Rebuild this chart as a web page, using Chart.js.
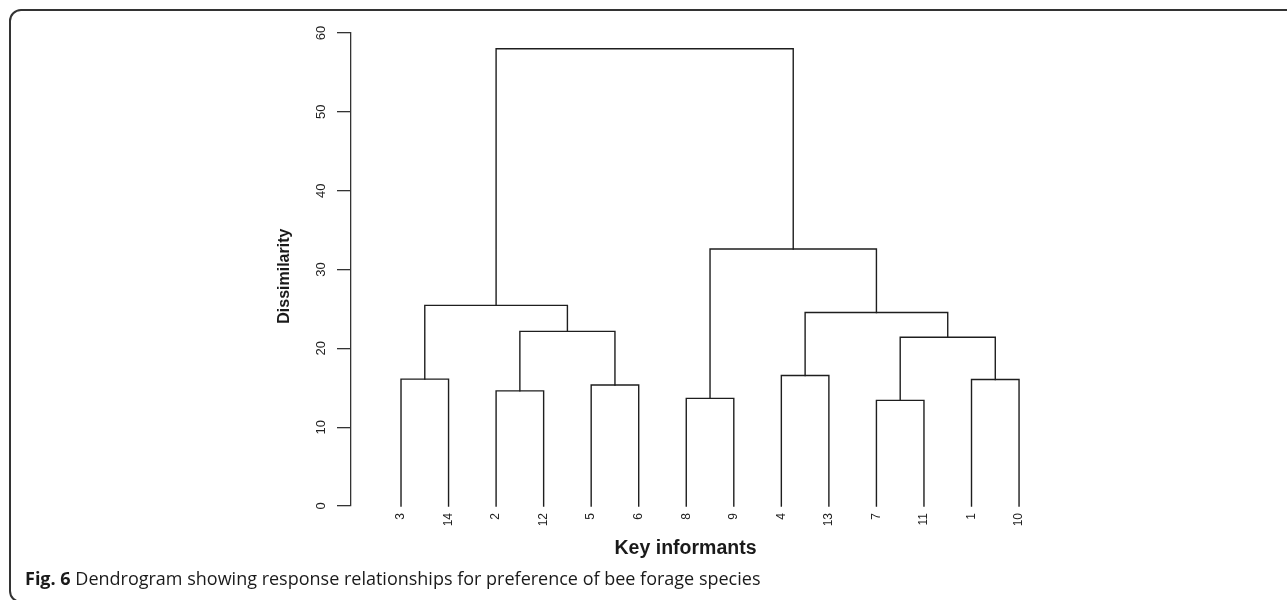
<!DOCTYPE html>
<html>
<head>
<meta charset="utf-8">
<script src="https://cdn.jsdelivr.net/npm/chart.js@4"></script>
<style>
  html, body { margin: 0; padding: 0; background: #fff; overflow: hidden; width: 1287px; height: 600px; }
  #frame { position: absolute; left: 9px; top: 9px; width: 1400px; height: 590px; border: 2px solid #333; border-radius: 12px; }
  #wrap { position: absolute; left: 0; top: 0; width: 1287px; height: 600px; }
  #cap { position: absolute; left: 25px; top: 568px; font-family: "Open Sans", "Noto Sans", sans-serif; font-size: 18px; line-height: 20px; color: #1a1a1a; white-space: nowrap; }
  #cap b { font-weight: 700; }
</style>
</head>
<body>
<div id="frame"></div>
<div id="wrap"><canvas id="c" width="1287" height="600"></canvas></div>
<div id="cap"><b>Fig. 6</b> Dendrogram showing response relationships for preference of bee forage species</div>
<script>
// Leaf order along the x axis
const leafLabels = ['3', '14', '2', '12', '5', '6', '8', '9', '4', '13', '7', '11', '1', '10'];
// Merges (hclust style): negative = leaf (1-based position), positive = earlier merge (1-based)
const mergeLeft   = [-1, -3, -5, 2, 1, -7, -9, -11, -13, 8, 7, 6, 5];
const mergeRight  = [-2, -4, -6, 3, 4, -8, -10, -12, -14, 9, 10, 11, 12];
const mergeHeight = [16.1, 14.6, 15.35, 22.15, 25.45, 13.65, 16.55, 13.4, 16.05, 21.4, 24.55, 32.6, 58.0];
// Y axis ticks
const yTicks = [0, 10, 20, 30, 40, 50, 60];

const nodeX = [], nodeH = [];
function pos(ref) { return ref < 0 ? { x: -ref, h: 0 } : { x: nodeX[ref - 1], h: nodeH[ref - 1] }; }
const datasets = mergeHeight.map((h, i) => {
  const l = pos(mergeLeft[i]), r = pos(mergeRight[i]);
  nodeX[i] = (l.x + r.x) / 2; nodeH[i] = h;
  return {
    data: [{ x: l.x, y: l.h }, { x: l.x, y: h }, { x: r.x, y: h }, { x: r.x, y: r.h }],
    showLine: true, borderColor: '#1e1e1e', borderWidth: 1.4, pointRadius: 0,
    tension: 0, clip: false, fill: false, borderCapStyle: 'square', borderJoinStyle: 'miter'
  };
});

new Chart(document.getElementById('c'), {
  type: 'scatter',
  data: { datasets },
  options: {
    responsive: false, animation: false, devicePixelRatio: 1,
    layout: { padding: { left: 0, top: 33, right: 267, bottom: 0 } },
    plugins: { legend: { display: false }, tooltip: { enabled: false }, title: { display: false } },
    scales: {
      x: {
        type: 'linear', position: 'bottom', min: -0.052, max: 14.02,
        grid: { display: false, drawTicks: false }, border: { display: false },
        afterBuildTicks: s => { s.ticks = leafLabels.map((_, i) => ({ value: i + 1 })); },
        afterFit: s => { s.height = 94; },
        ticks: {
          autoSkip: false, minRotation: 90, maxRotation: 90, padding: 7,
          color: '#222', font: { family: 'Liberation Sans', size: 12 },
          callback: v => leafLabels[v - 1]
        },
        title: {
          display: true, text: 'Key informants', color: '#1a1a1a',
          font: { family: 'Liberation Sans', size: 19.5, weight: 'bold' },
          padding: { top: 0, bottom: 40 }
        }
      },
      y: {
        type: 'linear', position: 'left', min: 0, max: 60,
        afterBuildTicks: s => { s.ticks = yTicks.map(v => ({ value: v })); },
        afterFit: s => { s.width = 351; },
        grid: { drawOnChartArea: false, drawTicks: true, tickLength: 14, color: '#333', lineWidth: 1.3 },
        border: { display: true, color: '#333', width: 1.3 },
        ticks: {
          minRotation: 90, maxRotation: 90, crossAlign: 'center', padding: 8,
          color: '#222', font: { family: 'Liberation Sans', size: 13 }
        },
        title: {
          display: true, text: 'Dissimilarity   ', color: '#1a1a1a',
          font: { family: 'Liberation Sans', size: 16, weight: 'bold' },
          padding: { top: 275, bottom: 0 }
        }
      }
    }
  }
});
</script>
</body>
</html>
